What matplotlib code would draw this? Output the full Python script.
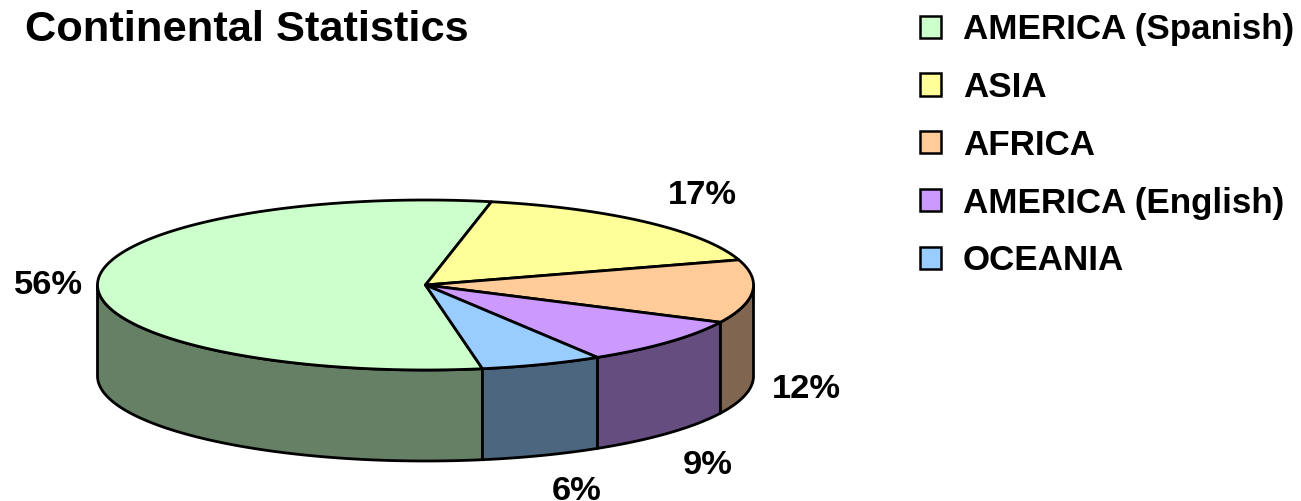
import numpy as np
import matplotlib
matplotlib.use("Agg")
import matplotlib.pyplot as plt
from matplotlib.patches import Polygon, Patch

plt.rcParams['font.family'] = ['Liberation Sans', 'DejaVu Sans']

title = "Continental Statistics"
categories = ["AMERICA (Spanish)", "ASIA", "AFRICA", "AMERICA (English)", "OCEANIA"]
values = [56, 17, 12, 9, 6]
top_colors = ["#CCFFCC", "#FFFF99", "#FFCC99", "#CC99FF", "#99CCFF"]
side_colors = ["#668066", "#808050", "#806650", "#664D80", "#4D6680"]
pct_labels = ["56%", "17%", "12%", "9%", "6%"]
pct_pos = [(48, 285), (702, 196), (806, 390), (708, 466), (577, 491)]

CX, CY, RX, RY, DEPTH = 425.5, 285, 328, 85, 91
START = 280.0

fig = plt.figure(figsize=(13.01, 5.01), dpi=100)
ax = fig.add_axes([0, 0, 1, 1])
ax.set_xlim(0, 1301)
ax.set_ylim(501, 0)
ax.axis("off")

def ell(t, dy=0.0):
    r = np.radians(t)
    return np.column_stack([CX + RX * np.cos(r), CY - RY * np.sin(r) + dy])

sweeps = np.array(values) / sum(values) * 360.0
ends = START - np.cumsum(sweeps)
starts = ends + sweeps
LW = 2.0

# side wall: only the front half of the rim (angles 180..360) is visible
for a0, a1, sc in zip(starts, ends, side_colors):
    for shift in (0, 360):
        hi, lo = min(a0 + shift, 360), max(a1 + shift, 180)
        if hi > lo:
            t = np.linspace(lo, hi, 80)
            pts = np.vstack([ell(t), ell(t[::-1], DEPTH)])
            ax.add_patch(Polygon(pts, closed=True, fc=sc, ec="black", lw=LW, joinstyle="round", zorder=2))

# top face
for a0, a1, c in zip(starts, ends, top_colors):
    t = np.linspace(a0, a1, 160)
    pts = np.vstack([[CX, CY], ell(t)])
    ax.add_patch(Polygon(pts, closed=True, fc=c, ec="black", lw=LW, joinstyle="round", zorder=3))

ax.text(25, 30, title, fontsize=31.2, fontweight="bold", color="black", ha="left", va="center")
for lab, (x, y) in zip(pct_labels, pct_pos):
    ax.text(x, y, lab, fontsize=24.8, fontweight="bold", color="black", ha="center", va="center")

handles = [Patch(fc=c, ec="black", lw=1.8) for c in top_colors]
ax.legend(handles, categories, loc="upper left", bbox_to_anchor=(920 / 1301, 1 - 13 / 501),
          frameon=False, prop={"weight": "bold", "size": 25.2},
          handlelength=0.6, handleheight=0.6, handletextpad=0.63,
          labelspacing=0.71, borderpad=0, borderaxespad=0)

fig.savefig("out.png", dpi=100)
